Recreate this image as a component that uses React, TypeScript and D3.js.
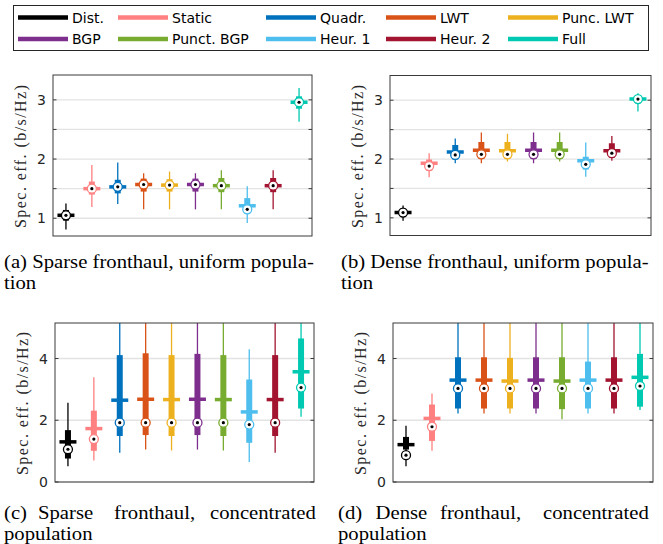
import React from 'react';
import * as d3 from 'd3';

// Methods and their colours
const methods = ['Dist.', 'Static', 'Quadr.', 'LWT', 'Punc. LWT', 'BGP', 'Punct. BGP', 'Heur. 1', 'Heur. 2', 'Full'];
const colors = ['#000000', '#FF8080', '#0072BD', '#D95319', '#EDB120', '#7E2F8E', '#77AC30', '#4DBEEE', '#A2142F', '#00C9B1'];

// (a) Sparse fronthaul, uniform population
const aLow = [0.81, 1.19, 1.24, 1.15, 1.15, 1.15, 1.15, 0.92, 1.15, 2.63];
const aQ1 = [0.96, 1.40, 1.42, 1.45, 1.45, 1.45, 1.44, 1.08, 1.44, 2.85];
const aMedian = [1.05, 1.50, 1.53, 1.57, 1.56, 1.57, 1.55, 1.15, 1.55, 2.96];
const aQ3 = [1.14, 1.62, 1.65, 1.67, 1.66, 1.67, 1.68, 1.34, 1.68, 3.06];
const aHigh = [1.25, 1.90, 1.94, 1.76, 1.79, 1.76, 1.81, 1.54, 1.81, 3.20];
const aMean = [1.05, 1.50, 1.53, 1.57, 1.56, 1.57, 1.55, 1.21, 1.55, 2.96];

// (b) Dense fronthaul, uniform population
const bLow = [0.95, 1.69, 1.93, 1.93, 1.96, 1.93, 1.96, 1.70, 1.97, 2.81];
const bQ1 = [1.02, 1.80, 1.99, 2.00, 2.00, 2.00, 2.00, 1.82, 2.02, 2.95];
const bMedian = [1.09, 1.88, 2.07, 2.08, 2.08, 2.08, 2.08, 1.91, 2.10, 3.02];
const bQ3 = [1.16, 1.99, 2.24, 2.29, 2.29, 2.29, 2.29, 2.04, 2.27, 3.08];
const bHigh = [1.21, 2.10, 2.35, 2.45, 2.43, 2.45, 2.45, 2.28, 2.39, 3.12];
const bMean = [1.09, 1.93, 2.12, 2.15, 2.14, 2.15, 2.15, 1.97, 2.14, 3.02];

// (c) Sparse fronthaul, concentrated population
const cLow = [0.51, 0.70, 0.95, 1.05, 1.02, 1.05, 1.02, 0.65, 0.95, 2.11];
const cQ1 = [0.76, 1.01, 1.49, 1.52, 1.49, 1.52, 1.49, 1.27, 1.49, 2.38];
const cMedian = [1.06, 1.39, 1.92, 1.92, 1.92, 1.92, 1.92, 1.86, 1.92, 3.06];
const cQ3 = [1.68, 2.31, 4.11, 4.17, 4.11, 4.15, 4.11, 3.32, 4.11, 4.65];
const cHigh = [2.57, 3.39, 5.6, 5.6, 5.6, 5.6, 5.6, 4.30, 5.6, 5.6];
const cMean = [1.30, 1.73, 2.65, 2.68, 2.67, 2.68, 2.67, 2.27, 2.67, 3.57];

// (d) Dense fronthaul, concentrated population
const dLow = [0.51, 1.01, 2.22, 2.22, 2.22, 2.22, 2.03, 2.22, 2.22, 2.33];
const dQ1 = [1.05, 1.33, 2.38, 2.38, 2.38, 2.38, 2.36, 2.38, 2.38, 2.44];
const dMedian = [0.87, 1.79, 3.03, 3.03, 3.03, 3.03, 3.03, 3.03, 3.03, 3.11];
const dQ3 = [1.46, 2.51, 4.04, 4.04, 4.02, 4.04, 4.04, 3.90, 4.04, 4.15];
const dHigh = [1.82, 2.87, 5.6, 5.6, 5.6, 5.6, 5.6, 5.6, 5.6, 5.6];
const dMean = [1.21, 2.06, 3.30, 3.30, 3.27, 3.30, 3.27, 3.30, 3.30, 3.39];

// Axis ticks
const uniformGridTicks = [1, 1.5, 2, 2.5, 3];
const uniformTickLabels = ['1', '', '2', '', '3'];
const concentratedGridTicks = [0, 2, 4];
const concentratedTickLabels = ['0', '2', '4'];

const yLabel = 'Spec. eff. (b/s/Hz)';
const axisColor = '#3a3a3a';
const sans = 'DejaVu Sans, sans-serif';
const serif = 'Liberation Serif, Times New Roman, serif';

type PanelProps = {
  id: string;
  left: number; right: number; top: number; bottom: number;
  domain: [number, number];
  ticks: number[]; tickLabels: string[];
  low: number[]; q1: number[]; median: number[]; q3: number[]; high: number[]; mean: number[];
};

function Panel(p: PanelProps) {
  const x = d3.scaleLinear().domain([0.5, methods.length + 0.5]).range([p.left, p.right]);
  const y = d3.scaleLinear().domain(p.domain).range([p.bottom, p.top]);
  const tickLen = 3.5;
  return (
    <g>
      <defs>
        <clipPath id={p.id}>
          <rect x={p.left} y={p.top} width={p.right - p.left} height={p.bottom - p.top} />
        </clipPath>
      </defs>
      {p.ticks.map((t) => (
        <line key={'g' + t} x1={p.left} x2={p.right} y1={y(t)} y2={y(t)} stroke="#e3e3e3" strokeWidth={1.3} />
      ))}
      <g clipPath={`url(#${p.id})`}>
        {methods.map((m, i) => {
          const cx = x(i + 1);
          const c = colors[i];
          return (
            <g key={m}>
              <line x1={cx} x2={cx} y1={y(p.low[i])} y2={y(p.high[i])} stroke={c} strokeWidth={1.3} />
              <line x1={cx} x2={cx} y1={y(p.q1[i])} y2={y(p.q3[i])} stroke={c} strokeWidth={6} />
              <line x1={cx - 8.5} x2={cx + 8.5} y1={y(p.mean[i])} y2={y(p.mean[i])} stroke={c} strokeWidth={3.5} />
              <circle cx={cx} cy={y(p.median[i])} r={4.5} fill="#fff" stroke={c} strokeWidth={1.3} />
              <circle cx={cx} cy={y(p.median[i])} r={1.6} fill="#000" />
            </g>
          );
        })}
      </g>
      {p.ticks.map((t, i) => (
        <g key={'t' + t}>
          <line x1={p.left} x2={p.left + tickLen} y1={y(t)} y2={y(t)} stroke={axisColor} strokeWidth={1} />
          <line x1={p.right} x2={p.right - tickLen} y1={y(t)} y2={y(t)} stroke={axisColor} strokeWidth={1} />
          {p.tickLabels[i] && (
            <text x={p.left - 7} y={y(t)} dy="0.36em" textAnchor="end" fontFamily={sans} fontSize={14} fill="#262626">
              {p.tickLabels[i]}
            </text>
          )}
        </g>
      ))}
      <rect x={p.left} y={p.top} width={p.right - p.left} height={p.bottom - p.top} fill="none" stroke={axisColor} strokeWidth={1} />
      <text
        transform={`translate(${p.left - 32.5},${(p.top + p.bottom) / 2 + 1}) rotate(-90)`}
        textAnchor="middle"
        dy="0.35em"
        fontFamily={serif}
        fontSize={16}
        fill="#262626"
        textLength={143}
        lengthAdjust="spacing"
      >
        {yLabel}
      </text>
    </g>
  );
}

function Legend() {
  const colX = [18, 118, 266, 386, 508];
  const rowY = [17.5, 39];
  return (
    <g>
      <rect x={13.5} y={5.5} width={635} height={45} fill="#fff" stroke="#262626" strokeWidth={1} />
      {methods.map((m, i) => {
        const lx = colX[i % 5];
        const ly = rowY[Math.floor(i / 5)];
        return (
          <g key={m}>
            <line x1={lx} x2={lx + 50} y1={ly} y2={ly} stroke={colors[i]} strokeWidth={4.5} />
            <text x={lx + 54} y={ly} dy="0.36em" fontFamily={sans} fontSize={14} fill="#000">{m}</text>
          </g>
        );
      })}
    </g>
  );
}

// Sub-figure caption: words placed at given x positions, slightly condensed serif type
function Caption({ words, xs, y }: { words: string[]; xs: number[]; y: number }) {
  return (
    <g>
      {words.map((w, i) => (
        <text key={i} transform={`translate(${xs[i]},${y}) scale(1.12,1)`} fontFamily={serif} fontSize={18.5} fill="#000">{w}</text>
      ))}
    </g>
  );
}

export default function App() {
  return (
    <div style={{ position: 'absolute', left: 0, top: 0 }}>
      <svg width={663} height={544} viewBox="0 0 663 544" style={{ display: 'block', background: '#fff' }}>
        <Legend />
        <Panel id="clipA" left={53} right={312} top={75} bottom={236} domain={[0.7, 3.42]}
          ticks={uniformGridTicks} tickLabels={uniformTickLabels}
          low={aLow} q1={aQ1} median={aMedian} q3={aQ3} high={aHigh} mean={aMean} />
        <Panel id="clipB" left={390} right={651} top={75.5} bottom={235.5} domain={[0.7, 3.42]}
          ticks={uniformGridTicks} tickLabels={uniformTickLabels}
          low={bLow} q1={bQ1} median={bMedian} q3={bQ3} high={bHigh} mean={bMean} />
        <Panel id="clipC" left={55} right={314} top={323} bottom={482} domain={[0, 5.15]}
          ticks={concentratedGridTicks} tickLabels={concentratedTickLabels}
          low={cLow} q1={cQ1} median={cMedian} q3={cQ3} high={cHigh} mean={cMean} />
        <Panel id="clipD" left={393} right={653} top={323} bottom={482} domain={[0, 5.15]}
          ticks={concentratedGridTicks} tickLabels={concentratedTickLabels}
          low={dLow} q1={dQ1} median={dMedian} q3={dQ3} high={dHigh} mean={dMean} />

        <Caption words={['(a) Sparse fronthaul, uniform popula-']} xs={[4]} y={268} />
        <Caption words={['tion']} xs={[4]} y={289} />
        <Caption words={['(b) Dense fronthaul, uniform popula-']} xs={[341]} y={268} />
        <Caption words={['tion']} xs={[341]} y={289} />

        <Caption words={['(c)', 'Sparse', 'fronthaul,', 'concentrated']} xs={[4, 38, 114, 210]} y={519} />
        <Caption words={['population']} xs={[4]} y={540} />
        <Caption words={['(d)', 'Dense', 'fronthaul,', 'concentrated']} xs={[338, 375.5, 440, 543]} y={519} />
        <Caption words={['population']} xs={[338]} y={540} />
      </svg>
    </div>
  );
}
